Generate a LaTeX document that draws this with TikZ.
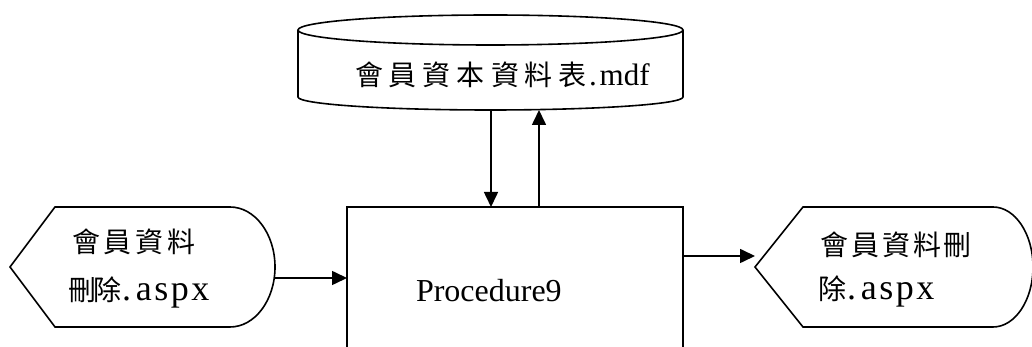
\documentclass[tikz,border=0pt]{standalone}
\usepackage{fontspec}
\setmainfont{Liberation Serif}
\newfontfamily\cjk{Noto Sans CJK TC}
\usetikzlibrary{arrows.meta,calc}
\begin{document}
\begin{tikzpicture}[x=1pt,y=1pt,
  line width=1.6pt,
  arr/.style={-{Triangle[length=15pt,width=14pt]}, line width=1.6pt},
  holder/.style={draw=none, inner sep=0pt, outer sep=0pt},
  procbox/.style={draw, inner sep=0pt, outer sep=0pt, minimum width=336pt, minimum height=200pt},
  lbl/.style={inner sep=0pt, outer sep=0pt, anchor=base west},
]
\useasboundingbox (0,0) rectangle (1032,347);

% database cylinder
\node[holder, minimum width=385pt, minimum height=95pt] (db) at (490.5,284.5) {};
\draw ($(db.north west)+(0,-15)$) -- ($(db.south west)+(0,13)$)
  arc[start angle=180, end angle=360, x radius=192.5, y radius=13]
  -- ($(db.north east)+(0,-15)$);
\draw ($(db.north)+(0,-15)$) ellipse[x radius=192.5, y radius=15];
\node[lbl] (dbt) at (355,261) {{\cjk\fontsize{28}{32}\selectfont 會\kern6pt 員\kern6pt 資\kern6pt 本\kern6pt 資\kern6pt 料\kern6pt 表}{\fontsize{31}{32}\selectfont \kern2pt.\kern3pt mdf}};

% process box
\node[procbox] (proc) at (515,40) {};
\node[lbl, font=\fontsize{32}{36}\selectfont] (proct) at (416,45) {Procedure9};

% left display shape
\node[holder, minimum width=265pt, minimum height=120pt] (inL) at (142.5,80) {};
\draw (inL.west) -- ($(inL.north west)+(45,0)$) -- ($(inL.north east)+(-45,0)$)
  arc[start angle=90, end angle=-90, x radius=45, y radius=60]
  -- ($(inL.south west)+(45,0)$) -- cycle;
\node[lbl] (inL1) at (72,94) {{\cjk\fontsize{28}{32}\selectfont 會\kern4pt 員\kern4pt 資\kern4pt 料}};
\node[lbl] (inL2) at (68,46) {{\cjk\fontsize{28}{32}\selectfont 刪\kern-3pt 除}{\fontsize{36}{38}\selectfont \kern1pt.\kern5pt a\kern2.5pt s\kern2.5pt p\kern2.5pt x}};

% right display shape
\node[holder, minimum width=278pt, minimum height=120pt] (outR) at (894,80) {};
\draw (outR.west) -- ($(outR.north west)+(48,0)$) -- ($(outR.north east)+(-40,0)$)
  arc[start angle=90, end angle=-90, x radius=40, y radius=60]
  -- ($(outR.south west)+(48,0)$) -- cycle;
\node[lbl] (outR1) at (820,91) {{\cjk\fontsize{28}{32}\selectfont 會\kern3pt 員\kern3pt 資\kern3pt 料\kern3pt 刪}};
\node[lbl] (outR2) at (818,47) {{\cjk\fontsize{28}{32}\selectfont 除}{\fontsize{36}{38}\selectfont \kern1pt.\kern5pt a\kern2.5pt s\kern2.5pt p\kern2.5pt x}};

% connectors
\coordinate (dnx) at (491,0);
\coordinate (upx) at (539,0);
\coordinate (ya) at (0,69);
\coordinate (yb) at (0,91);
\draw[arr] (db.south -| dnx) -- (proc.north -| dnx);
\draw[arr] (proc.north -| upx) -- (db.south -| upx);
\draw[arr] (inL.east |- ya) -- (proc.west |- ya);
\draw[arr] (proc.east |- yb) -- (outR.west |- yb);
\end{tikzpicture}
\end{document}
